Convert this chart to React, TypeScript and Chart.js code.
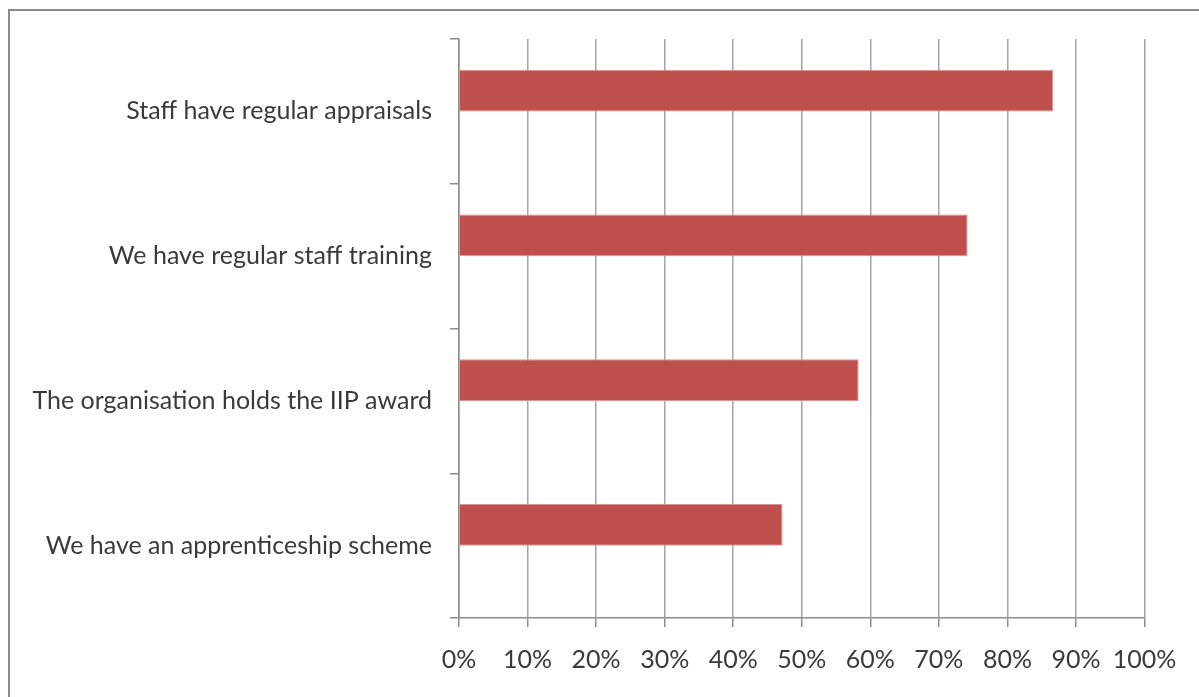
import React, { useEffect, useRef } from "react";
import { Chart, registerables } from "chart.js";

Chart.register(...registerables);

const categories: string[] = [
  "Staff have regular appraisals",
  "We have regular staff training",
  "The organisation holds the IIP award",
  "We have an apprenticeship scheme",
];
const shareValues: number[] = [86.7, 74.2, 58.3, 47.2];
const emptySeries: (number | null)[] = [null, null, null, null];
const xTickValues: number[] = [0, 10, 20, 30, 40, 50, 60, 70, 80, 90, 100];

const FONT = "Lato";
const TEXT = "#3A3A3A";

export default function App() {
  const ref = useRef<HTMLCanvasElement | null>(null);

  useEffect(() => {
    if (!ref.current) return;
    const chart = new Chart(ref.current, {
      type: "bar",
      data: {
        labels: categories,
        datasets: [
          {
            label: "Yes",
            data: shareValues,
            backgroundColor: "#C0504D",
            borderColor: "#D99593",
            borderWidth: 1,
            categoryPercentage: 0.575,
            barPercentage: 1,
          },
          {
            label: "Other",
            data: emptySeries,
            backgroundColor: "#4F81BD",
            categoryPercentage: 0.575,
            barPercentage: 1,
          },
        ],
      },
      options: {
        indexAxis: "y",
        animation: false,
        responsive: false,
        maintainAspectRatio: false,
        layout: { padding: { top: 39, right: 54.5, left: 0, bottom: 0 } },
        plugins: {
          legend: { display: false },
          tooltip: { enabled: false },
          title: { display: false },
        },
        scales: {
          x: {
            type: "linear",
            min: 0,
            max: 100,
            afterBuildTicks: (scale: any) => {
              scale.ticks = xTickValues.map((v) => ({ value: v }));
            },
            afterFit: (scale: any) => {
              scale.height = 79;
            },
            grid: {
              color: "#A6A6A6",
              lineWidth: 1.5,
              tickLength: 9,
              tickColor: "#8C8C8C",
              drawTicks: true,
            },
            border: { display: true, color: "#8C8C8C", width: 1.5 },
            ticks: {
              padding: 18,
              color: TEXT,
              font: { family: FONT, size: 25 },
              callback: (v: any) => `${v}%`,
              maxRotation: 0,
              autoSkip: false,
            },
          },
          y: {
            type: "category",
            afterFit: (scale: any) => {
              scale.width = 459;
            },
            grid: {
              offset: true,
              drawOnChartArea: false,
              drawTicks: true,
              tickLength: 9,
              color: "#8C8C8C",
              lineWidth: 1.5,
            },
            border: { display: true, color: "#8C8C8C", width: 1.5 },
            ticks: {
              padding: 18,
              color: TEXT,
              font: { family: FONT, size: 25 },
              autoSkip: false,
            },
          },
        },
      },
    });
    return () => chart.destroy();
  }, []);

  return (
    <div
      style={{
        position: "fixed",
        left: 0,
        top: 0,
        width: 1199,
        height: 697,
        overflow: "hidden",
        background: "#ffffff",
      }}
    >
      <div
        style={{
          position: "absolute",
          left: 8,
          top: 9,
          width: 1300,
          height: 800,
          border: "2px solid #8A8A8A",
          boxSizing: "border-box",
        }}
      />
      <canvas
        ref={ref}
        width={1199}
        height={697}
        style={{ position: "absolute", left: 0, top: 0, width: 1199, height: 697 }}
      />
    </div>
  );
}
